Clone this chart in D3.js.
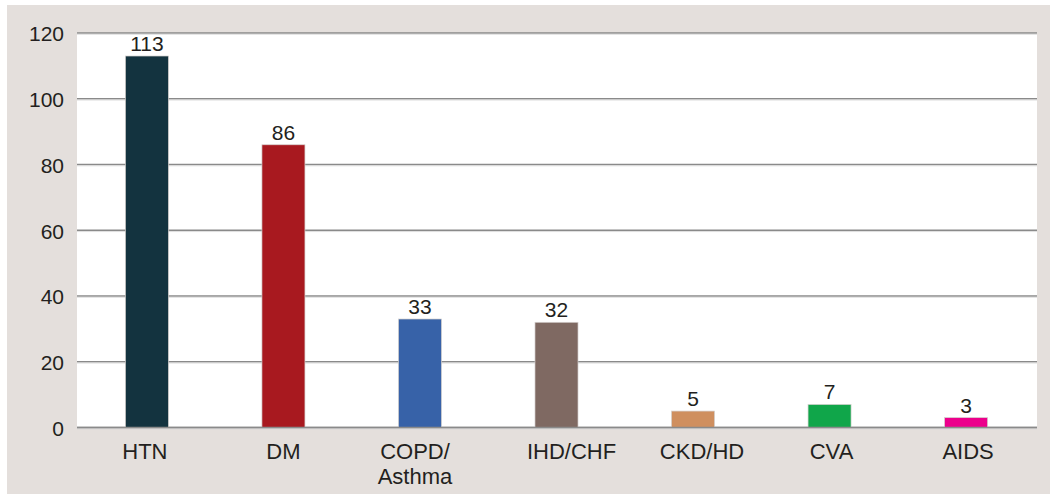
<!DOCTYPE html>
<html>
<head>
<meta charset="utf-8">
<script src="https://cdn.jsdelivr.net/npm/d3@7"></script>
<style>
  html, body { margin: 0; padding: 0; background: #ffffff; }
  svg { display: block; }
  text { font-family: "Liberation Sans", Arial, sans-serif; fill: #231f20; }
</style>
</head>
<body>
<svg id="chart" width="1050" height="495"></svg>
<script>
const categories = ["HTN", "DM", "COPD/\nAsthma", "IHD/CHF", "CKD/HD", "CVA", "AIDS"];
const values = [113, 86, 33, 32, 5, 7, 3];
const barColors = ["#13333f", "#a8191f", "#3762a8", "#7f6962", "#cf8f5f", "#10a64a", "#ec008c"];
const yTicks = [0, 20, 40, 60, 80, 100, 120];

const svg = d3.select("#chart");
const W = 1050, H = 495;

// outer panel
svg.append("rect").attr("x", 7).attr("y", 5).attr("width", W - 7).attr("height", 489)
  .attr("fill", "#e4dfdc");

const plot = { left: 77, right: 1037, top: 33, bottom: 427.5 };

svg.append("rect").attr("x", plot.left).attr("y", plot.top)
  .attr("width", plot.right - plot.left).attr("height", plot.bottom - plot.top)
  .attr("fill", "#ffffff");

const x = d3.scaleBand().domain(categories).range([79, 1034]).paddingInner(0.685).paddingOuter(0.34);
const y = d3.scaleLinear().domain([0, 120]).range([plot.bottom, plot.top]);

// gridlines
const grid = svg.append("g");
grid.selectAll("line.g").data(yTicks).join("line")
  .attr("x1", plot.left).attr("x2", plot.right)
  .attr("y1", d => y(d)).attr("y2", d => y(d))
  .attr("stroke", "#8a8a8a").attr("stroke-width", 1.5);
grid.selectAll("line.s").data(yTicks).join("line")
  .attr("x1", plot.left).attr("x2", plot.right)
  .attr("y1", d => y(d) + 1.3).attr("y2", d => y(d) + 1.3)
  .attr("stroke", "#d6d6d6").attr("stroke-width", 0.8);

// y axis labels
const yAxis = d3.axisLeft(y).tickValues(yTicks).tickSize(0).tickPadding(0);
const ya = svg.append("g").attr("transform", "translate(64,0)").call(yAxis);
ya.select(".domain").remove();
ya.selectAll("text").attr("font-size", 21).attr("fill", "#231f20")
  .attr("font-family", "Liberation Sans, Arial, sans-serif")
  .attr("dy", 7.8).attr("text-anchor", "end");

// bars
svg.append("g").selectAll("rect").data(values).join("rect")
  .attr("x", (d, i) => x(categories[i]))
  .attr("y", d => y(d))
  .attr("width", x.bandwidth())
  .attr("height", d => y(0) - y(d))
  .attr("fill", (d, i) => barColors[i])
  .attr("stroke", "#d4d0ce").attr("stroke-width", 0.7);

// zero line on top
svg.append("line").attr("x1", plot.left).attr("x2", plot.right)
  .attr("y1", y(0)).attr("y2", y(0))
  .attr("stroke", "#8a8a8a").attr("stroke-width", 1.5);

// value labels
svg.append("g").selectAll("text").data(values).join("text")
  .attr("x", (d, i) => x(categories[i]) + x.bandwidth() / 2)
  .attr("y", d => y(d) - 5)
  .attr("text-anchor", "middle")
  .attr("font-size", 21)
  .text(d => d);

// category labels (small hand-placed nudges as in the original)
const labelNudge = [-2, 0, -5, 15, 9, 2, 2];
const xa = svg.append("g");
categories.forEach((c, i) => {
  const lines = c.split("\n");
  const cx = x(c) + x.bandwidth() / 2 + labelNudge[i];
  const t = xa.append("text")
    .attr("x", cx)
    .attr("y", 458.5)
    .attr("text-anchor", "middle")
    .attr("font-size", 22);
  lines.forEach((ln, j) => {
    t.append("tspan").attr("x", cx).attr("dy", j === 0 ? 0 : 25.5).text(ln);
  });
});
</script>
</body>
</html>
